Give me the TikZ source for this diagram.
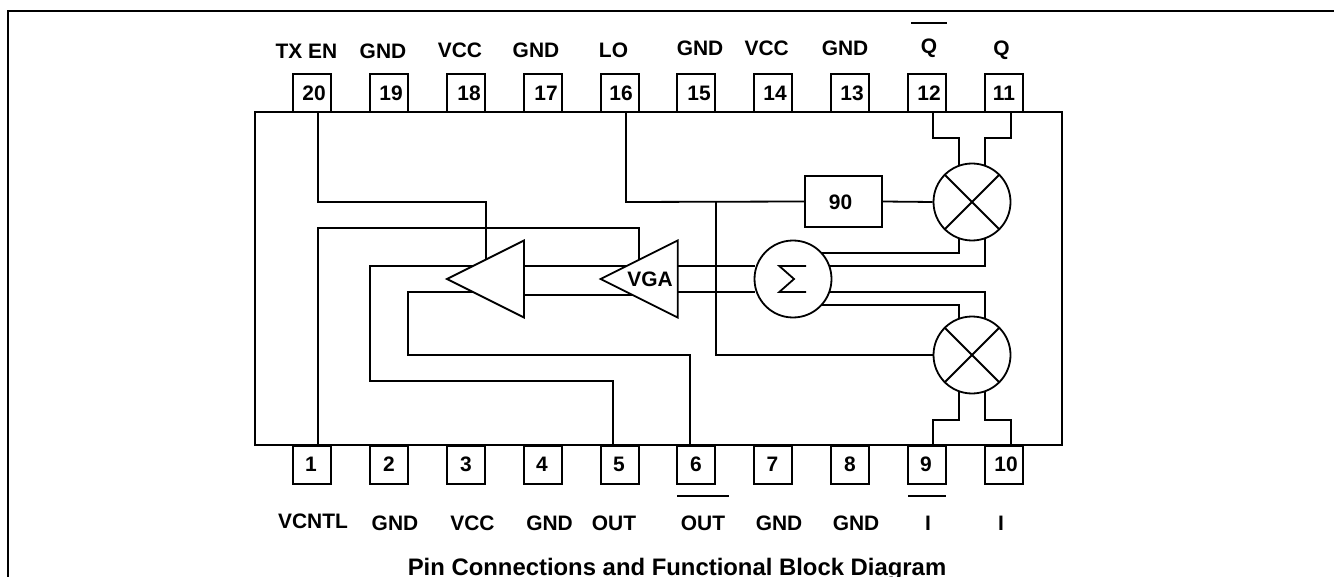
\documentclass[tikz,border=0pt]{standalone}
\usepackage{fontspec}
\setmainfont{Liberation Sans}
\usetikzlibrary{shapes.geometric,calc}
\begin{document}
\begin{tikzpicture}[x=0.75pt,y=-0.75pt,
  wire/.style={draw=black,line width=1.35pt,line join=miter},
  frame/.style={draw=black,line width=1.8pt},
  lbl/.style={font=\fontsize{15.7}{18}\selectfont\bfseries,inner sep=0pt,text=black},
  ttl/.style={font=\fontsize{17.9}{20}\selectfont\bfseries,inner sep=0pt,text=black,anchor=base},
  pinbox/.style={draw=black,line width=1.35pt,minimum width=28.5pt,minimum height=28.5pt,inner sep=0pt},
  chipbox/.style={draw=black,line width=1.35pt,inner sep=0pt,minimum width=605.25pt,minimum height=249.75pt},
  phasebox/.style={draw=black,line width=1.35pt,inner sep=0pt,minimum width=57.75pt,minimum height=38.25pt},
  ring/.style={circle,draw=black,line width=1.35pt,inner sep=0pt,minimum size=57.75pt},
  amp/.style={isosceles triangle,isosceles triangle stretches,shape border rotate=180,anchor=apex,draw=black,line width=1.35pt,inner sep=0pt,outer sep=0pt,minimum width=57.75pt,minimum height=57.75pt}
]
\useasboundingbox (0,0) rectangle (1334,577);
\draw[frame] (8,600) -- (8,11) -- (1340,11);
\node[chipbox] (chip) at (658.5,278.5) {};
% pins
\foreach \n/\x in {20/312,19/389,18/466,17/543,16/620,15/696,14/773,13/850,12/927,11/1004}
  \node[pinbox] (p\n) at (\x,93) {};
\foreach \n/\x in {1/312,2/389,3/466,4/543,5/620,6/696,7/773,8/850,9/927,10/1004}
  \node[pinbox] (p\n) at (\x,465) {};
\foreach \n/\x in {20/314,19/391,18/469,17/546,16/621,15/699,14/775,13/852,12/929,11/1004}
  \node[lbl] (n\n) at (\x,93) {\n};
\foreach \n/\x in {1/311,2/389,3/466,4/542,5/619,6/696,7/772.5,8/850,9/926,10/1006}
  \node[lbl] (n\n) at (\x,464) {\n};
% blocks
\node[phasebox] (ph) at (843.5,201.5) {};
\node[lbl] (phtxt) at (840.5,202) {90};
\node[ring] (m1) at (972,202) {};
\node[ring] (m2) at (972,355) {};
\node[ring] (sum) at (793,279) {};
\node[amp] (a1) at (447,279) {};
\node[amp] (a2) at (600.7,279) {};
\node[lbl] (vga) at (650,279.5) {VGA};
% mixer crosses
\draw[wire] (m1.45) -- (m1.225) (m1.135) -- (m1.315);
\draw[wire] (m2.45) -- (m2.225) (m2.135) -- (m2.315);
% sigma
\draw[wire] (sum)+(13,-13) -- +(-13.7,-13) -- +(1,0) -- +(-13.7,13) -- +(13,13);
% tap points on the chip edge
\coordinate (t20) at (318,112);
\coordinate (t16) at (626,112);
\coordinate (t12) at (933,112);
\coordinate (t11) at (1011,112);
\coordinate (b1) at (318,445);
\coordinate (b5) at (613,445);
\coordinate (b6) at (690,445);
\coordinate (b9) at (933,445);
\coordinate (b10) at (1011,445);
% coordinates on the amplifier slopes
\coordinate (a1top) at (486,259.5);
\coordinate (a2top) at (639,259.5);
% connectors
\draw[wire] (t20) -- (318,202) -- (486,202) -- (a1top);
\draw[wire] (b1) -- (318,228) -- (639,228) -- (a2top);
\draw[wire] (t16) -- (626,202) -- (ph.west);
\draw[wire] (ph.east) -- (m1.west);
\draw[wire] (716,202) -- (716,355) -- (m2.west);
\draw[wire] (t12) -- (933,138) -- (959,138) -- (959,165);
\draw[wire] (t11) -- (1011,138) -- (985,138) -- (985,165);
\draw[wire] (b9) -- (933,420) -- (959,420) -- (959,392);
\draw[wire] (b10) -- (1011,420) -- (985,420) -- (985,392);
\draw[wire] (959,239) -- (959,253) -- (821.5,253);
\draw[wire] (985,239) -- (985,266) -- (829,266);
\draw[wire] (985,318) -- (985,292) -- (830,292);
\draw[wire] (959,318) -- (959,305) -- (822,305);
\draw[wire] (677,266) -- (755,266);
\draw[wire] (677,292) -- (755,292);
\draw[wire] (524,266) -- (626,266);
\draw[wire] (524,295) -- (632,295);
\draw[wire] (b5) -- (613,381) -- (370,381) -- (370,266) -- (472.5,266);
\draw[wire] (b6) -- (690,355) -- (408,355) -- (408,292) -- (472.5,292);
% top labels
\node[lbl] (l20) at (306.5,51) {TX EN};
\node[lbl] (l19) at (383,51) {GND};
\node[lbl] (l18) at (460,50) {VCC};
\node[lbl] (l17) at (536,50) {GND};
\node[lbl] (l16) at (613.5,50) {LO};
\node[lbl] (l15) at (700,48) {GND};
\node[lbl] (l14) at (766.7,48) {VCC};
\node[lbl] (l13) at (845,48) {GND};
\node[lbl] (l12) at (929,48) {Q};
\node[lbl] (l11) at (1001.5,50) {Q};
\coordinate (ov1a) at (911,23); \coordinate (ov1b) at (947,23);
\draw[wire] (ov1a) -- (ov1b);
% bottom labels
\node[lbl] (l1) at (313,521.5) {VCNTL};
\node[lbl] (l2) at (395,523.5) {GND};
\node[lbl] (l3) at (472.5,523.5) {VCC};
\node[lbl] (l4) at (549.6,523.5) {GND};
\node[lbl] (l5) at (614,523.5) {OUT};
\node[lbl] (l6) at (703,523.5) {OUT};
\node[lbl] (l7) at (779,523.5) {GND};
\node[lbl] (l8) at (856,523.5) {GND};
\node[lbl] (l9) at (928,523.5) {I};
\node[lbl] (l10) at (1001,523.5) {I};
\coordinate (ov2a) at (677,496); \coordinate (ov2b) at (729,496);
\draw[wire] (ov2a) -- (ov2b);
\coordinate (ov3a) at (908,496); \coordinate (ov3b) at (946,496);
\draw[wire] (ov3a) -- (ov3b);
\node[ttl] (title) at (677,575) {Pin Connections and Functional Block Diagram};
\end{tikzpicture}
\end{document}
